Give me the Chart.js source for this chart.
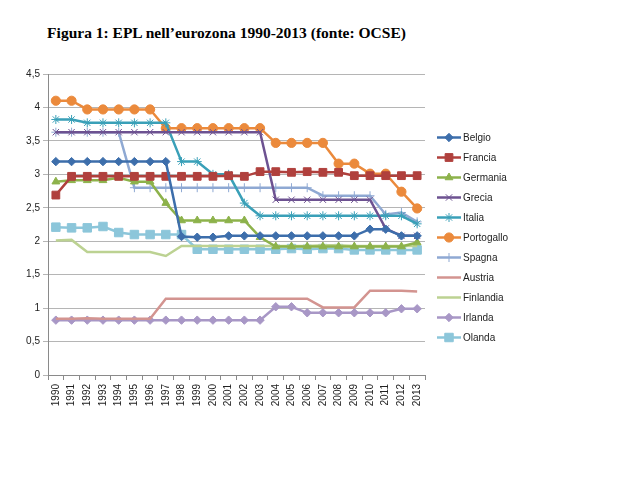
<!DOCTYPE html>
<html>
<head>
<meta charset="utf-8">
<script src="https://cdn.jsdelivr.net/npm/chart.js@4.4.0/dist/chart.umd.min.js"></script>
<style>
  html, body { margin: 0; padding: 0; background: #fff; }
  #wrap { position: relative; width: 640px; height: 496px; }
  #title { position: absolute; left: 0; width: 453px; top: 24px; text-align: center;
           font-family: 'Liberation Serif', 'Times New Roman', serif; font-weight: bold; font-size: 15.5px; color: #000; }
  canvas { position: absolute; left: 0; top: 0; }
</style>
</head>
<body>
<div id="wrap">
  <div id="title">Figura 1: EPL nell’eurozona 1990-2013 (fonte: OCSE)</div>
  <canvas id="c" width="640" height="496"></canvas>
</div>
<script>
const years = ['1990','1991','1992','1993','1994','1995','1996','1997','1998','1999','2000','2001','2002','2003','2004','2005','2006','2007','2008','2009','2010','2011','2012','2013'];
const yTicks = [0, 0.5, 1, 1.5, 2, 2.5, 3, 3.5, 4, 4.5];

const belgio     = [3.19,3.19,3.19,3.19,3.19,3.19,3.19,3.19,2.07,2.06,2.06,2.08,2.08,2.08,2.08,2.08,2.08,2.08,2.08,2.08,2.18,2.18,2.08,2.08];
const francia    = [2.69,2.97,2.97,2.97,2.97,2.97,2.97,2.97,2.97,2.97,2.97,2.98,2.97,3.04,3.04,3.03,3.04,3.03,3.03,2.98,2.98,2.98,2.98,2.98];
const germania   = [2.89,2.91,2.91,2.91,2.95,2.89,2.89,2.57,2.31,2.31,2.31,2.31,2.31,2.06,1.92,1.92,1.92,1.92,1.92,1.92,1.92,1.92,1.92,1.98];
const grecia     = [3.63,3.63,3.63,3.63,3.63,3.63,3.63,3.63,3.63,3.63,3.63,3.63,3.63,3.63,2.62,2.62,2.62,2.62,2.62,2.62,2.62,2.19,2.08,2.08];
const italia     = [3.82,3.82,3.77,3.77,3.77,3.77,3.77,3.77,3.19,3.19,3.00,3.00,2.57,2.38,2.38,2.38,2.38,2.38,2.38,2.38,2.38,2.38,2.38,2.26];
const portogallo = [4.10,4.10,3.97,3.97,3.97,3.97,3.97,3.69,3.69,3.69,3.69,3.69,3.69,3.69,3.47,3.47,3.47,3.47,3.16,3.16,3.01,3.01,2.74,2.49];
const spagna     = [3.63,3.63,3.63,3.63,3.63,2.80,2.80,2.80,2.80,2.80,2.80,2.80,2.80,2.80,2.80,2.80,2.80,2.68,2.68,2.68,2.68,2.40,2.43,2.29];
const austria    = [0.84,0.84,0.85,0.84,0.84,0.84,0.84,1.14,1.14,1.14,1.14,1.14,1.14,1.14,1.14,1.14,1.14,1.01,1.01,1.01,1.26,1.26,1.26,1.25];
const finlandia  = [2.01,2.02,1.84,1.84,1.84,1.84,1.84,1.78,1.93,1.93,1.93,1.93,1.93,1.93,1.93,1.93,1.93,1.94,1.94,1.93,1.93,1.93,1.93,1.93];
const irlanda    = [0.82,0.82,0.82,0.82,0.82,0.82,0.82,0.82,0.82,0.82,0.82,0.82,0.82,0.82,1.02,1.02,0.93,0.93,0.93,0.93,0.93,0.93,0.99,0.99];
const olanda     = [2.21,2.20,2.20,2.22,2.13,2.10,2.10,2.10,2.10,1.88,1.88,1.88,1.88,1.88,1.88,1.89,1.88,1.89,1.89,1.87,1.87,1.87,1.87,1.87];

function ds(label, data, color, style, radius, bw) {
  return {
    label, data,
    borderColor: color, backgroundColor: color,
    borderWidth: 2.5,
    pointStyle: style || false,
    pointRadius: style ? radius : 0,
    pointHoverRadius: style ? radius : 0,
    pointBackgroundColor: color,
    pointBorderColor: color,
    pointBorderWidth: bw || 1,
    tension: 0, fill: false
  };
}

const datasets = [
  ds('Belgio', belgio, '#3d6eab', 'rectRot', 4.2, 1),
  ds('Francia', francia, '#b0403d', 'rect', 5.5, 1),
  ds('Germania', germania, '#8db24b', 'triangle', 4.5, 1),
  ds('Grecia', grecia, '#6d5291', 'crossRot', 4.5, 1),
  ds('Italia', italia, '#3aa0b8', 'star', 4.5, 1),
  ds('Portogallo', portogallo, '#eb8a3c', 'circle', 4.6, 1),
  ds('Spagna', spagna, '#8fa9d3', 'cross', 4.5, 1),
  ds('Austria', austria, '#d39490', null, 0),
  ds('Finlandia', finlandia, '#bcd292', null, 0),
  ds('Irlanda', irlanda, '#a897c6', 'rectRot', 4.2, 1),
  ds('Olanda', olanda, '#8cc6da', 'rect', 6, 1)
];

const sideLegend = {
  id: 'sideLegend',
  afterDraw(chart) {
    const ctx = chart.ctx;
    const x0 = chart.chartArea.right + 12;
    let y = 137.5;
    ctx.save();
    chart.data.datasets.forEach(d => {
      ctx.strokeStyle = d.borderColor;
      ctx.fillStyle = d.borderColor;
      ctx.lineWidth = 2.5;
      ctx.beginPath();
      ctx.moveTo(x0, y);
      ctx.lineTo(x0 + 24, y);
      ctx.stroke();
      if (d.pointStyle) {
        ctx.lineWidth = d.pointBorderWidth;
        Chart.helpers.drawPoint(ctx, { pointStyle: d.pointStyle, radius: d.pointRadius, borderWidth: d.pointBorderWidth, rotation: 0 }, x0 + 12, y);
      }
      ctx.fillStyle = '#222';
      ctx.font = "10px 'Liberation Sans', Arial, sans-serif";
      ctx.textBaseline = 'middle';
      ctx.textAlign = 'left';
      ctx.fillText(d.label, x0 + 26, y + 0.5);
      y += 20;
    });
    ctx.restore();
  }
};

Chart.defaults.font.family = "'Liberation Sans', Arial, sans-serif";
Chart.defaults.font.size = 10;
Chart.defaults.color = '#333';

new Chart(document.getElementById('c'), {
  type: 'line',
  data: { labels: years, datasets },
  options: {
    responsive: false,
    animation: false,
    devicePixelRatio: 1,
    layout: { padding: { left: 18, right: 215, top: 74, bottom: 78 } },
    plugins: { legend: { display: false }, title: { display: false }, tooltip: { enabled: false } },
    scales: {
      x: {
        type: 'category',
        offset: true,
        grid: { offset: true, drawOnChartArea: false, drawTicks: true, tickLength: 5, color: '#8a8a8a' },
        border: { display: true, color: '#8a8a8a', width: 1 },
        ticks: { minRotation: 90, maxRotation: 90, autoSkip: false, padding: 4, color: '#222' },
        afterFit(scale) { scale.height = 43; }
      },
      y: {
        min: 0, max: 4.5,
        afterBuildTicks(scale) { scale.ticks = yTicks.map(v => ({ value: v })); },
        grid: { color: '#b5b5b5', lineWidth: 1, tickLength: 5 },
        border: { display: true, color: '#8a8a8a', width: 1 },
        ticks: { padding: 3, color: '#222', callback: v => String(v).replace('.', ',') },
        afterFit(scale) { scale.width = 30; }
      }
    }
  },
  plugins: [sideLegend]
});
</script>
</body>
</html>
